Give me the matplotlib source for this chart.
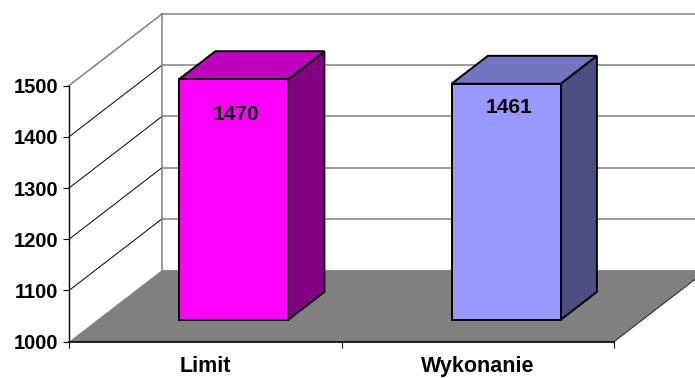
import matplotlib
matplotlib.use("Agg")
import matplotlib.pyplot as plt
from matplotlib.patches import Polygon

# Data
categories = ["Limit", "Wykonanie"]
values = [1470, 1461]
y_ticks = [1000, 1100, 1200, 1300, 1400, 1500]

# Colours per bar: front, top, side
front_colors = ["#FF00FF", "#9999FF"]
top_colors = ["#C000C0", "#7373BF"]
side_colors = ["#800080", "#4D4D80"]

plt.rcParams["font.family"] = ["Liberation Sans", "DejaVu Sans"]
plt.rcParams["font.weight"] = "bold"

W, H, DPI = 695, 378, 100
fig = plt.figure(figsize=(W / DPI, H / DPI), dpi=DPI)

# Front plane of the 3-D box (pixel extents converted to figure fractions)
left_px, right_px, bottom_px, top_px = 69, 614, 341.7, 85.6
ax = fig.add_axes([left_px / W, 1 - bottom_px / H,
                   (right_px - left_px) / W, (bottom_px - top_px) / H])
ymin, ymax = 1000, 1500
ax.set_xlim(0, len(categories))
ax.set_ylim(ymin, ymax)

# Oblique depth offset of the box in data units
px_per_x = (right_px - left_px) / len(categories)
px_per_y = (bottom_px - top_px) / (ymax - ymin)
DX = 93 / px_per_x
DY = 71.6 / px_per_y

def poly(pts, **kw):
    p = Polygon(pts, closed=True, clip_on=False, **kw)
    ax.add_patch(p)
    return p

n = len(categories)
grid_gray = "#808080"

# Left wall (white) and back wall (white)
poly([(0, ymin), (0, ymax), (DX, ymax + DY), (DX, ymin + DY)],
     facecolor="white", edgecolor="none", zorder=0.5)
poly([(DX, ymin + DY), (DX, ymax + DY), (n + DX, ymax + DY), (n + DX, ymin + DY)],
     facecolor="white", edgecolor="none", zorder=0.5)

# Floor
poly([(0, ymin), (n, ymin), (n + DX, ymin + DY), (DX, ymin + DY)],
     facecolor="#808080", edgecolor="none", zorder=0.8)
ax.plot([n, n + DX], [ymin, ymin + DY], color="#303030", lw=0.8,
        clip_on=False, zorder=0.9)

# Gridlines: diagonal on the left wall, horizontal on the back wall
for v in y_ticks[1:-1]:
    ax.plot([0, DX], [v, v + DY], color="black", lw=0.7, clip_on=False, zorder=1)
    ax.plot([DX, n + DX], [v + DY, v + DY], color=grid_gray, lw=1.1,
            clip_on=False, zorder=1)
# Wall edges
ax.plot([0, DX], [ymax, ymax + DY], color=grid_gray, lw=1.1, clip_on=False, zorder=1)
ax.plot([DX, n + DX], [ymax + DY, ymax + DY], color=grid_gray, lw=1.1,
        clip_on=False, zorder=1)
ax.plot([DX, DX], [ymin + DY, ymax + DY], color=grid_gray, lw=1.1,
        clip_on=False, zorder=1)

# Bars
bar_w = 0.4
d0, d1 = 0.305, 0.695
label_drop_px = [35, 24]
for i, (v, fc, tc, sc) in enumerate(zip(values, front_colors, top_colors, side_colors)):
    c = i + 0.5
    x0, x1 = c - bar_w / 2, c + bar_w / 2
    ox0, oy0 = d0 * DX, d0 * DY
    ox1, oy1 = d1 * DX, d1 * DY
    edge = dict(edgecolor="black", linewidth=1.4, joinstyle="miter", zorder=3)
    # side
    poly([(x1 + ox0, ymin + oy0), (x1 + ox1, ymin + oy1),
          (x1 + ox1, v + oy1), (x1 + ox0, v + oy0)], facecolor=sc, **edge)
    # top
    poly([(x0 + ox0, v + oy0), (x1 + ox0, v + oy0),
          (x1 + ox1, v + oy1), (x0 + ox1, v + oy1)], facecolor=tc, **edge)
    # front
    poly([(x0 + ox0, ymin + oy0), (x1 + ox0, ymin + oy0),
          (x1 + ox0, v + oy0), (x0 + ox0, v + oy0)], facecolor=fc, **edge)
    ax.annotate(f"{v}", xy=(c + ox0 + 0.01, v + oy0),
                xytext=(0, -label_drop_px[i]), textcoords="offset pixels",
                ha="center", va="center", fontsize=15, fontweight="bold",
                color="black", zorder=4, annotation_clip=False)

# Axes: left value axis and bottom category axis
for s in ["top", "right"]:
    ax.spines[s].set_visible(False)
ax.spines["left"].set_color("black")
ax.spines["bottom"].set_color("black")
ax.spines["left"].set_linewidth(1.0)
ax.spines["bottom"].set_linewidth(1.2)
ax.spines["left"].set_zorder(2.5)
ax.spines["bottom"].set_zorder(2.5)
ax.patch.set_visible(False)

ax.set_yticks(y_ticks)
ax.set_yticklabels([str(t) for t in y_ticks])
ax.tick_params(axis="y", direction="out", length=4.3, width=0.8, pad=3.5,
               labelsize=14.5, colors="black")
ax.set_xticks(range(n + 1))
ax.set_xticklabels([])
ax.tick_params(axis="x", which="major", direction="out", length=4.3, width=0.8)
ax.set_xticks([i + 0.5 for i in range(n)], minor=True)
ax.set_xticklabels(categories, minor=True)
ax.tick_params(axis="x", which="minor", length=0, pad=10.5, labelsize=15.5)
for lab in ax.get_yticklabels() + ax.get_xticklabels(minor=True):
    lab.set_fontweight("bold")

fig.savefig("out.png", dpi=DPI, facecolor="white")
